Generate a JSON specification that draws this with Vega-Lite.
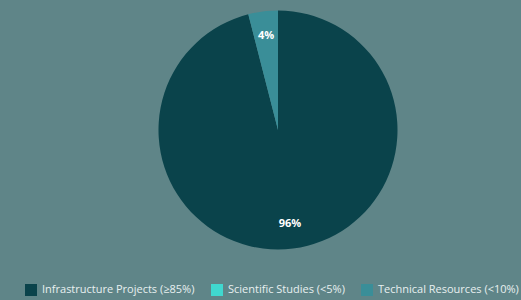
{
  "$schema": "https://vega.github.io/schema/vega-lite/v6.json",
  "width": 486,
  "height": 260,
  "padding": {"left": 25, "top": 0, "right": 0, "bottom": 40},
  "background": "#5f8588",
  "data": {
    "values": [
      {"category": "Infrastructure Projects (≥85%)", "value": 96, "rank": 1, "label": "96%"},
      {"category": "Scientific Studies (<5%)", "value": 0, "rank": 2, "label": ""},
      {"category": "Technical Resources (<10%)", "value": 4, "rank": 3, "label": "4%"}
    ]
  },
  "encoding": {
    "theta": {"field": "value", "type": "quantitative", "stack": true},
    "order": {"field": "rank", "type": "quantitative"}
  },
  "layer": [
    {
      "mark": {"type": "arc", "outerRadius": 119.5, "stroke": null},
      "encoding": {
        "color": {
          "field": "category",
          "type": "nominal",
          "sort": null,
          "scale": {
            "domain": ["Infrastructure Projects (≥85%)", "Scientific Studies (<5%)", "Technical Resources (<10%)"],
            "range": ["#0a434b", "#40d8cf", "#3a8e98"]
          },
          "legend": {
            "title": null,
            "orient": "none",
            "direction": "horizontal",
            "legendX": -10,
            "legendY": 284,
            "symbolType": "square",
            "symbolSize": 144,
            "symbolStrokeWidth": 0,
            "symbolOpacity": 1,
            "labelColor": "#e8f0f0",
            "labelFontSize": 11,
            "labelFont": "Open Sans",
            "labelOffset": 5,
            "columnPadding": 16
          }
        }
      }
    },
    {
      "transform": [{"filter": "datum.value > 0"}],
      "mark": {"type": "text", "radius": 95, "color": "white", "fontWeight": "bold", "fontSize": 11, "font": "Open Sans"},
      "encoding": {"text": {"field": "label"}}
    }
  ],
  "config": {"view": {"stroke": null}}
}
